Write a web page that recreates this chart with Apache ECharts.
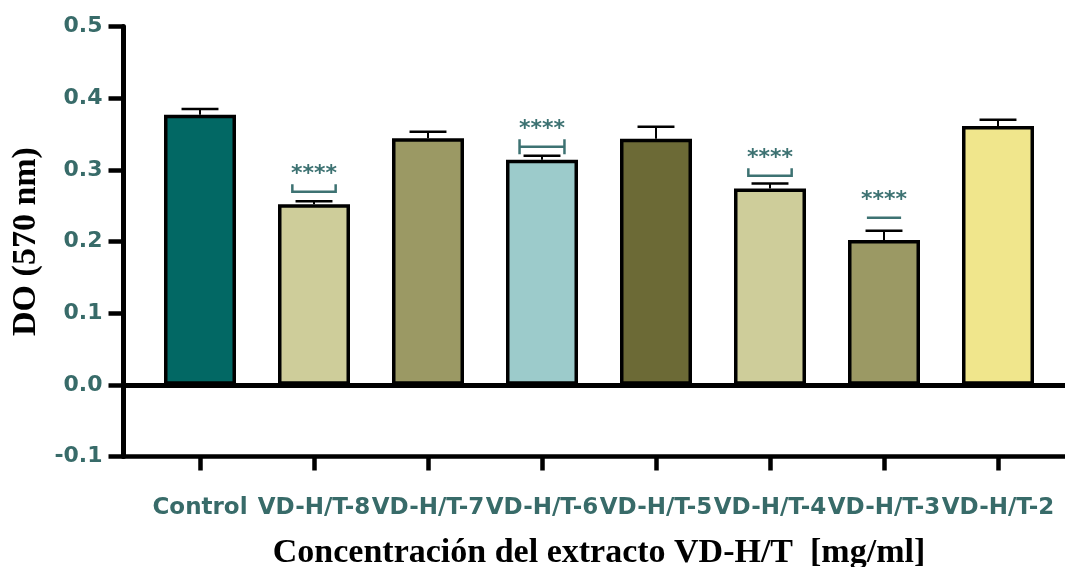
<!DOCTYPE html>
<html>
<head>
<meta charset="utf-8">
<script src="https://cdn.jsdelivr.net/npm/echarts@6/dist/echarts.min.js"></script>
<style>
  html, body { margin: 0; padding: 0; background: #ffffff; }
  #chart { width: 1065px; height: 567px; }
</style>
</head>
<body>
<div id="chart"></div>
<script>
// ---- data ----
const categories = ['Control', 'VD-H/T-8', 'VD-H/T-7', 'VD-H/T-6', 'VD-H/T-5', 'VD-H/T-4', 'VD-H/T-3', 'VD-H/T-2'];
const meanValues = [0.377, 0.252, 0.344, 0.314, 0.3435, 0.274, 0.202, 0.361];
const errorValues = [0.008, 0.004, 0.009, 0.0055, 0.0165, 0.007, 0.013, 0.009];
const sigLevels = [null, 0.2694, null, 0.3322, null, 0.2918, 0.2332, null];
const sigKinds = ['', 'cup', '', 'cap', '', 'cup', 'line', ''];
const sigLabel = '****';
const yMin = -0.1, yMax = 0.5, yStep = 0.1;

// ---- styles ----
const barColors = ['#026864', '#cecd9a', '#9b9964', '#9ccbcb', '#6c6a36', '#cecd9a', '#9b9964', '#f0e68c'];
const tealText = '#386b69';
const sigColor = '#3d7272';

const chart = echarts.init(document.getElementById('chart'), null, { renderer: 'canvas' });

const errData = meanValues.map((v, i) => [i, v, v + errorValues[i]]);
const sigData = [];
const sigDataKinds = [];
sigLevels.forEach((lv, i) => {
  if (lv !== null) { sigData.push([i, lv]); sigDataKinds.push(sigKinds[i]); }
});

const option = {
  animation: false,
  backgroundColor: '#ffffff',
  grid: [
    { left: 143, right: 10, top: 26.5, bottom: 110.5, containLabel: false, outerBoundsMode: 'none' },
    { left: 123.5, right: 0, top: 26.5, bottom: 110.5, containLabel: false, outerBoundsMode: 'none' }
  ],
  xAxis: [
    {
      type: 'category', gridIndex: 0, data: categories,
      axisLine: { show: false, onZero: false },
      axisTick: { show: true, alignWithLabel: true, length: 14, lineStyle: { color: '#000', width: 4.5 } },
      axisLabel: { interval: 0, margin: 40, color: tealText, fontFamily: 'DejaVu Sans', fontWeight: 'bold', fontSize: 23 },
      name: 'Concentración del extracto VD-H/T  [mg/ml]',
      nameLocation: 'middle', nameGap: 80,
      nameTextStyle: { fontFamily: 'Liberation Serif', fontWeight: 'bold', fontSize: 34, color: '#000' },
      splitLine: { show: false }
    },
    {
      type: 'value', gridIndex: 1, min: 0, max: 1,
      axisLine: { show: true, onZero: false, lineStyle: { color: '#000', width: 4.5 } },
      axisTick: { show: false }, axisLabel: { show: false }, splitLine: { show: false }
    }
  ],
  yAxis: [
    { type: 'value', gridIndex: 0, min: yMin, max: yMax, interval: yStep, show: false },
    {
      type: 'value', gridIndex: 1, min: yMin, max: yMax, interval: yStep,
      axisLine: { show: true, onZero: false, lineStyle: { color: '#000', width: 5 } },
      axisTick: { show: true, length: 15, lineStyle: { color: '#000', width: 4.5 } },
      axisLabel: {
        margin: 21, color: tealText, fontFamily: 'DejaVu Sans', fontWeight: 'bold', fontSize: 22,
        formatter: v => v.toFixed(1)
      },
      splitLine: { show: false },
      name: 'DO (570 nm)', nameLocation: 'middle', nameGap: 80, nameRotate: 90,
      nameTextStyle: { fontFamily: 'Liberation Serif', fontWeight: 'bold', fontSize: 34, color: '#000' }
    }
  ],
  series: [
    {
      type: 'line', xAxisIndex: 1, yAxisIndex: 1, data: [], silent: true,
      markLine: {
        silent: true, symbol: ['none', 'none'], label: { show: false },
        lineStyle: { color: '#000', width: 5, type: 'solid' },
        data: [{ yAxis: 0 }]
      }
    },
    {
      type: 'bar', xAxisIndex: 0, yAxisIndex: 0, barWidth: 72, z: 3,
      data: meanValues.map((v, i) => ({ value: v, itemStyle: { color: barColors[i] } })),
      itemStyle: { borderColor: '#000', borderWidth: 3.5 }
    },
    {
      type: 'custom', xAxisIndex: 0, yAxisIndex: 0, z: 4,
      encode: { x: 0, y: [1, 2] },
      data: errData,
      renderItem: function (params, api) {
        const x = api.value(0);
        const lo = api.coord([x, api.value(1)]);
        const hi = api.coord([x, api.value(2)]);
        const hw = api.size([1, 0])[0] * 0.162;
        return {
          type: 'group', children: [
            { type: 'line', shape: { x1: lo[0], y1: lo[1], x2: hi[0], y2: hi[1] }, style: { stroke: '#000', lineWidth: 2 } },
            { type: 'line', shape: { x1: hi[0] - hw, y1: hi[1], x2: hi[0] + hw, y2: hi[1] }, style: { stroke: '#000', lineWidth: 2.5 } }
          ]
        };
      }
    },
    {
      type: 'custom', xAxisIndex: 0, yAxisIndex: 0, z: 5,
      encode: { x: 0, y: 1 },
      data: sigData,
      renderItem: function (params, api) {
        const kind = sigDataKinds[params.dataIndex];
        const p = api.coord([api.value(0), api.value(1)]);
        const band = api.size([1, 0])[0];
        const x = p[0], y = p[1];
        const ls = { stroke: sigColor, lineWidth: 2.5, fill: null };
        const children = [];
        if (kind === 'cup') {
          const h = band * 0.19;
          children.push({ type: 'polyline', shape: { points: [[x - h, y - 7.5], [x - h, y], [x + h, y], [x + h, y - 7.5]] }, style: ls });
        } else if (kind === 'cap') {
          const h = band * 0.197;
          children.push({ type: 'line', shape: { x1: x - h, y1: y, x2: x + h, y2: y }, style: ls });
          children.push({ type: 'line', shape: { x1: x - h, y1: y - 7.5, x2: x - h, y2: y + 7.5 }, style: ls });
          children.push({ type: 'line', shape: { x1: x + h, y1: y - 7.5, x2: x + h, y2: y + 7.5 }, style: ls });
        } else {
          const h = band * 0.15;
          children.push({ type: 'line', shape: { x1: x - h, y1: y, x2: x + h, y2: y }, style: ls });
        }
        children.push({
          type: 'text',
          style: {
            x: x, y: y - 17.5, text: sigLabel, fill: sigColor,
            font: 'bold 22px "DejaVu Sans"', textAlign: 'center', textVerticalAlign: 'middle'
          }
        });
        return { type: 'group', children: children };
      }
    }
  ]
};

chart.setOption(option);
</script>
</body>
</html>
